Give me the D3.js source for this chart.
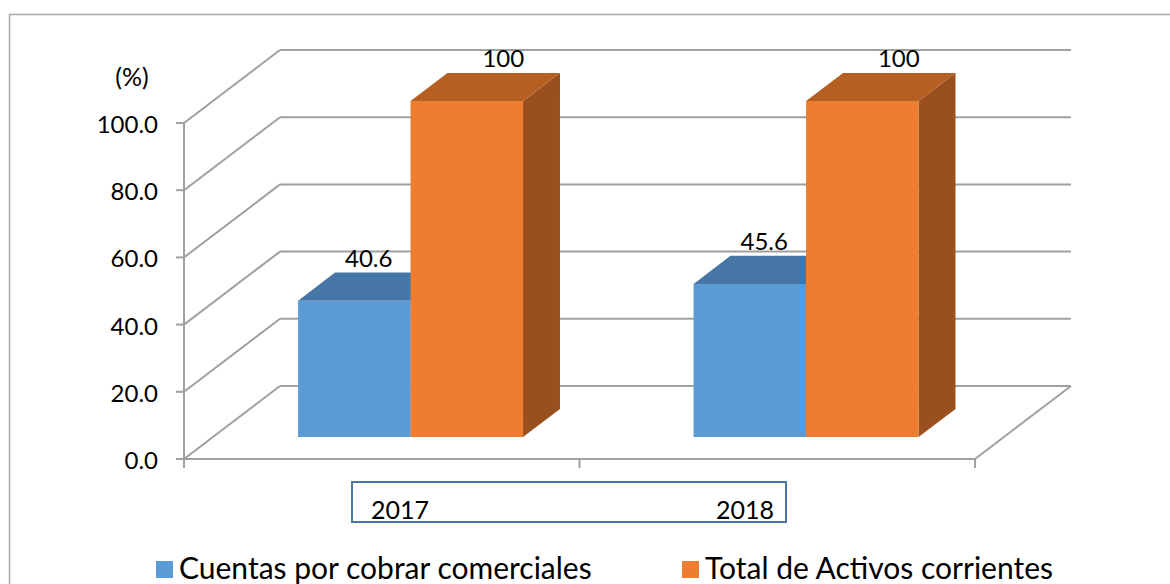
<!DOCTYPE html>
<html>
<head>
<meta charset="utf-8">
<script src="https://cdn.jsdelivr.net/npm/d3@7"></script>
<style>
  html, body { margin: 0; padding: 0; background: #fff; }
  svg { display: block; font-family: Lato, "Open Sans", sans-serif; }
</style>
</head>
<body>
<svg id="chart" width="1170" height="584"></svg>
<script>
// ---- data ----
const categories = ["2017", "2018"];
const seriesNames = ["Cuentas por cobrar comerciales", "Total de Activos corrientes"];
const cuentasPorCobrar = [40.6, 45.6];
const totalActivos = [100, 100];
const yTicks = [0, 20, 40, 60, 80, 100];
const yUnit = "(%)";

// ---- layout ----
const svg = d3.select("#chart");
const W = 1170, H = 584;
const plotLeft = 184, plotRight = 975, yBottom = 459, yTop = 123;
const depthDX = 96, depthDY = -73;          // full floor depth projection
const barD0 = 0.30, barD1 = 0.685;          // bar depth range (fraction of floor)
const gridColor = "#a0a0a0";
const colors = {
  front: ["#5b9bd5", "#ed7d31"],
  top:   ["#4576a5", "#b55f22"],
  side:  ["#3f6d99", "#9a4f1e"]
};

const y = d3.scaleLinear().domain([0, 100]).range([yBottom, yTop]);
const x0 = d3.scaleBand().domain(categories).range([plotLeft, plotRight]).padding(0);
const x1 = d3.scaleBand().domain([0, 1]).range([0, x0.bandwidth()]).paddingInner(0).paddingOuter(0.758);

// projection of (front-plane x, value, depth fraction) to screen
const P = (x, v, d) => [x + d * depthDX, y(v) + d * depthDY];

// outer frame
svg.append("path")
  .attr("d", `M9.5,${H + 2} L9.5,14.5 L${W + 2},14.5`)
  .attr("fill", "none").attr("stroke", "#a6a6a6").attr("stroke-width", 1.5);

const g = svg.append("g");

// back wall gridlines
g.selectAll("line.grid").data(yTicks).join("line")
  .attr("class", "grid")
  .attr("x1", d => P(plotLeft, d, 1)[0]).attr("x2", d => P(plotRight, d, 1)[0])
  .attr("y1", d => P(plotLeft, d, 1)[1]).attr("y2", d => P(plotRight, d, 1)[1])
  .attr("stroke", gridColor).attr("stroke-width", 2);

// side wall diagonals
g.selectAll("line.diag").data(yTicks).join("line")
  .attr("class", "diag")
  .attr("x1", d => P(plotLeft, d, 0)[0]).attr("y1", d => P(plotLeft, d, 0)[1])
  .attr("x2", d => P(plotLeft, d, 1)[0]).attr("y2", d => P(plotLeft, d, 1)[1])
  .attr("stroke", gridColor).attr("stroke-width", 2);

// floor: front edge, right diagonal
const f0 = P(plotRight, 0, 0), f1 = P(plotRight, 0, 1);
g.append("line").attr("x1", plotLeft).attr("x2", plotRight).attr("y1", y(0)).attr("y2", y(0))
  .attr("stroke", gridColor).attr("stroke-width", 2);
g.append("line").attr("x1", f0[0]).attr("y1", f0[1]).attr("x2", f1[0]).attr("y2", f1[1])
  .attr("stroke", gridColor).attr("stroke-width", 2);

// category ticks on floor front edge
const catTicks = categories.map(c => x0(c)).concat([plotRight]);
g.selectAll("line.ct").data(catTicks).join("line")
  .attr("x1", d => d).attr("x2", d => d).attr("y1", y(0)).attr("y2", y(0) + 9)
  .attr("stroke", gridColor).attr("stroke-width", 2);

// y axis line and ticks
g.append("line").attr("x1", plotLeft).attr("x2", plotLeft).attr("y1", y(100)).attr("y2", y(0) + 9)
  .attr("stroke", gridColor).attr("stroke-width", 2);
g.selectAll("line.yt").data(yTicks).join("line")
  .attr("x1", plotLeft - 8).attr("x2", plotLeft).attr("y1", d => y(d)).attr("y2", d => y(d))
  .attr("stroke", gridColor).attr("stroke-width", 2);
g.selectAll("text.yl").data(yTicks).join("text")
  .attr("x", 158).attr("y", d => y(d) + 10)
  .attr("text-anchor", "end").attr("font-size", 24).attr("fill", "#000")
  .text(d3.format(".1f"));
g.append("text").attr("x", 132).attr("y", 86).attr("text-anchor", "middle")
  .attr("font-size", 25).attr("fill", "#000").text(yUnit);

// bars
const series = [cuentasPorCobrar, totalActivos];
const poly = pts => "M" + pts.map(p => p.join(",")).join("L") + "Z";
categories.forEach((cat, ci) => {
  series.forEach((vals, si) => {
    const v = vals[ci];
    const xl = x0(cat) + x1(si), xr = xl + x1.bandwidth();
    // side face
    g.append("path").attr("fill", colors.side[si])
      .attr("d", poly([P(xr, 0, barD0), P(xr, 0, barD1), P(xr, v, barD1), P(xr, v, barD0)]));
    // top face
    g.append("path").attr("fill", colors.top[si])
      .attr("d", poly([P(xl, v, barD0), P(xr, v, barD0), P(xr, v, barD1), P(xl, v, barD1)]));
    // front face
    g.append("path").attr("fill", colors.front[si])
      .attr("d", poly([P(xl, 0, barD0), P(xr, 0, barD0), P(xr, v, barD0), P(xl, v, barD0)]));
  });
});

// data labels
const labelDepth = [0.45, 0.68];
categories.forEach((cat, ci) => {
  series.forEach((vals, si) => {
    const v = vals[ci];
    const xc = x0(cat) + x1(si) + x1.bandwidth() / 2;
    const px = P(xc, v, labelDepth[si])[0];
    const py = P(xc, v, barD1)[1] - 6;
    g.append("text").attr("x", px).attr("y", py).attr("text-anchor", "middle")
      .attr("font-size", 24).attr("fill", "#000").text(String(v));
  });
});

// category label box and labels
svg.append("rect").attr("x", 352).attr("y", 482).attr("width", 434).attr("height", 40)
  .attr("fill", "none").attr("stroke", "#4a76a8").attr("stroke-width", 2);
const catLabelX = [400, 745];
categories.forEach((c, i) => {
  svg.append("text").attr("x", catLabelX[i]).attr("y", 519).attr("text-anchor", "middle")
    .attr("font-size", 25).attr("fill", "#000").text(c);
});

// legend
const legendX = [156, 682];
seriesNames.forEach((name, i) => {
  svg.append("rect").attr("x", legendX[i]).attr("y", 561).attr("width", 17).attr("height", 17)
    .attr("fill", colors.front[i]);
  svg.append("text").attr("x", legendX[i] + 23).attr("y", 579)
    .attr("font-size", 30).attr("fill", "#000").text(name);
});
</script>
</body>
</html>
